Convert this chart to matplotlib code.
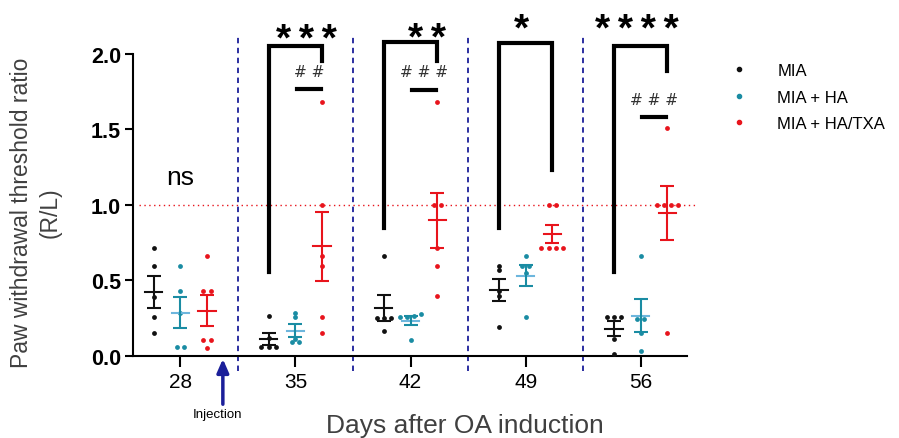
import numpy as np
import matplotlib
matplotlib.use("Agg")
import matplotlib.pyplot as plt
from matplotlib.lines import Line2D

plt.rcParams["font.family"] = ["Liberation Sans", "DejaVu Sans"]

# ── Data ──────────────────────────────────────────────────────────────────────

DAYS   = ["28", "35", "42", "49", "56"]
GROUPS = ["MIA", "MIA + HA", "MIA + HA/TXA"]

mia = [
    [0.713, 0.596, 0.393, 0.260, 0.150],
    [0.267, 0.120, 0.058, 0.058, 0.058],
    [0.664, 0.250, 0.250, 0.250, 0.168],
    [0.594, 0.572, 0.430, 0.395, 0.194],
    [0.260, 0.260, 0.260, 0.113, 0.013],
]
mia_ha = [
    [0.596, 0.433, 0.283, 0.060, 0.060],
    [0.283, 0.260, 0.113, 0.091, 0.091],
    [0.278, 0.264, 0.260, 0.260, 0.108],
    [0.664, 0.594, 0.594, 0.548, 0.260],
    [0.664, 0.245, 0.245, 0.152, 0.031],
]
mia_ha_txa = [
    [0.664, 0.433, 0.433, 0.106, 0.106, 0.055],
    [1.680, 1.002, 0.664, 0.598, 0.260, 0.150],
    [1.680, 1.000, 1.000, 0.713, 0.598, 0.395],
    [1.000, 1.000, 0.713, 0.713, 0.713, 0.713],
    [1.510, 1.000, 1.000, 1.000, 1.000, 0.152],
]

# significance vs MIA (bracket black -> red), days 35..56
star_days   = [1, 2, 3, 4]
star_labels = ["***", "**", "*", "****"]
bracket_top = [2.055, 2.077, 2.070, 2.050]
left_leg    = [0.554, 0.846, 0.846, 0.554]
right_leg   = [1.956, 1.950, 1.234, 1.885]
star_x      = [1.10, 2.14, 2.96, 3.97]
star_y      = [2.09, 2.10, 2.16, 2.16]

# significance vs MIA + HA (short bar teal -> red)
hash_days   = [1, 2, 4]
hash_labels = ["# #", "# # #", "# # #"]
hash_bar_y  = [1.77, 1.76, 1.58]
hash_text_y = [1.88, 1.88, 1.695]

# ── Style ─────────────────────────────────────────────────────────────────────

DOT_COLORS  = ["#111111", "#1a8ca3", "#e8141c"]
MEAN_COLORS = ["#111111", "#6db6dd", "#e8141c"]
ERR_COLORS  = ["#111111", "#1a8ca3", "#e8141c"]
OFFSETS     = [-0.232, 0.0, 0.232]
NAVY        = "#1b1f9a"
THIN        = "\u2009"


def swarm_offsets(vals, tol=0.02, step=0.063):
    """Spread near-equal values sideways like a beeswarm."""
    vals  = np.asarray(vals)
    order = np.argsort(vals)
    offs  = np.zeros(len(vals))
    cluster = [order[0]]
    for prev, cur in zip(order[:-1], order[1:]):
        if vals[cur] - vals[prev] < tol:
            cluster.append(cur)
        else:
            n = len(cluster)
            for k, idx in enumerate(cluster):
                offs[idx] = (k - (n - 1) / 2) * step
            cluster = [cur]
    n = len(cluster)
    for k, idx in enumerate(cluster):
        offs[idx] = (k - (n - 1) / 2) * step
    return offs


fig = plt.figure(figsize=(8.99, 4.39), dpi=100)
ax  = fig.add_axes([0.148, 0.187, 0.616, 0.688])

for g, series in enumerate([mia, mia_ha, mia_ha_txa]):
    for d, vals in enumerate(series):
        x0   = d + OFFSETS[g]
        vals = np.asarray(vals)
        xs   = x0 + swarm_offsets(vals)
        ax.scatter(xs, vals, s=12, color=DOT_COLORS[g], zorder=3,
                   linewidths=0, clip_on=False)
        mean = vals.mean()
        sem  = vals.std(ddof=1) / np.sqrt(len(vals))
        ax.plot([x0 - 0.075, x0 + 0.075], [mean, mean],
                color=MEAN_COLORS[g], lw=1.5, zorder=4)
        ax.errorbar(x0, mean, yerr=sem, fmt="none", ecolor=ERR_COLORS[g],
                    elinewidth=1.5, capsize=5, capthick=1.5, zorder=4)

# separators between days
for xs in [0.5, 1.5, 2.5, 3.5]:
    ax.plot([xs, xs], [-0.1, 2.11], color=NAVY, lw=1.3,
            ls=(0, (3, 2.5)), clip_on=False, zorder=1)

# reference line at ratio 1.0
ax.plot([-0.36, 4.48], [1.0, 1.0], color="#e8141c", lw=1.0,
        ls=(0, (1, 2.5)), clip_on=False, zorder=1)

# brackets
for d, lab, top, lb, rb, sx, sy in zip(star_days, star_labels, bracket_top,
                                       left_leg, right_leg, star_x, star_y):
    xl = d + OFFSETS[0]
    xr = d + OFFSETS[2]
    ax.plot([xl, xl, xr, xr], [lb, top, top, rb], color="black", lw=3,
            solid_joinstyle="miter", clip_on=False, zorder=5)
    ax.text(sx, sy, THIN.join(lab), ha="center", va="center",
            fontsize=28, fontweight="bold", clip_on=False)

for d, lab, by, ty in zip(hash_days, hash_labels, hash_bar_y, hash_text_y):
    xl = d + 0.01
    xr = d + OFFSETS[2] - 0.01
    ax.plot([xl, xr], [by, by], color="black", lw=3, clip_on=False)
    ax.text((xl + xr) / 2, ty, lab, ha="center", va="center",
            fontsize=11, color="#333333", family="DejaVu Sans")

ax.text(0, 1.185, "ns", ha="center", va="center", fontsize=19)

# axes
ax.set_xlim(-0.41, 4.4)
ax.set_ylim(0, 2.0)
ax.set_xticks(range(len(DAYS)))
ax.set_xticklabels(DAYS, fontsize=15)
ax.set_yticks([0, 0.5, 1.0, 1.5, 2.0])
ax.set_yticklabels(["0.0", "0.5", "1.0", "1.5", "2.0"],
                   fontsize=15.5, fontweight="bold")
for side in ["top", "right"]:
    ax.spines[side].set_visible(False)
for side in ["left", "bottom"]:
    ax.spines[side].set_linewidth(1.5)
ax.tick_params(axis="y", length=6, width=1.5, pad=2.5)
ax.tick_params(axis="x", length=8, width=1.5)

# injection arrow
ax.annotate("", xy=(0.37, -0.02), xytext=(0.37, -0.32),
            xycoords="data", textcoords="data",
            arrowprops=dict(arrowstyle="-|>,head_length=0.8,head_width=0.35",
                            color=NAVY, lw=2.5, shrinkA=0, shrinkB=0),
            annotation_clip=False)
ax.text(0.32, -0.385, "Injection", ha="center", va="center", fontsize=9.5)

fig.text(0.517, 0.003, "Days after OA induction", ha="center",
         va="bottom", fontsize=19, color="#404040")
fig.text(0.040, 0.515, "Paw withdrawal threshold ratio\n(R/L)",
         ha="center", va="center", rotation=90, fontsize=16.5,
         color="#404040", linespacing=1.35)

handles = [Line2D([], [], ls="none", marker="o", ms=3, color=c)
           for c in DOT_COLORS]
fig.legend(handles, GROUPS, loc="upper left", bbox_to_anchor=(0.796, 0.888),
           frameon=False, fontsize=12, handlelength=1.0, handletextpad=1.8,
           labelspacing=0.68)

fig.savefig("out.png", dpi=100)
